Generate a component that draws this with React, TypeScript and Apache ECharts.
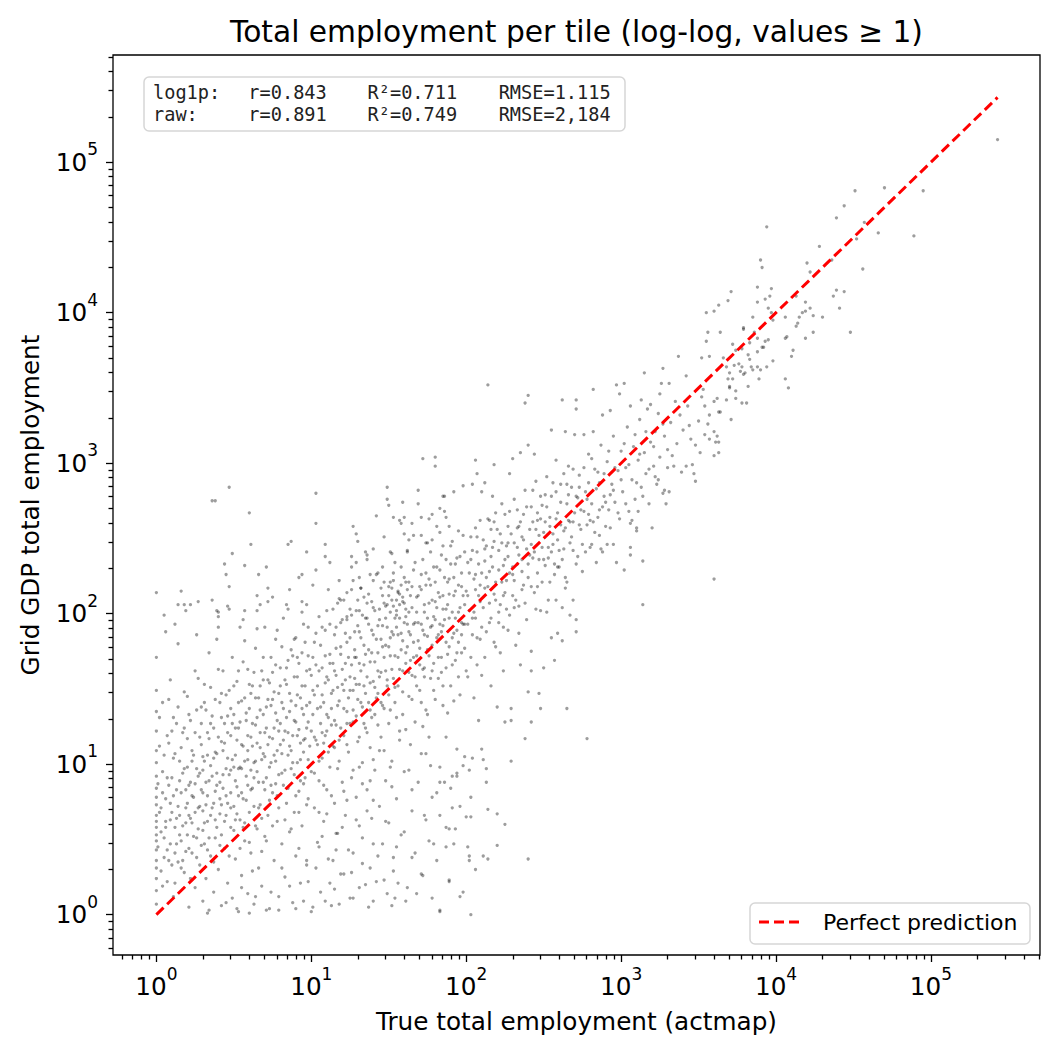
import { useEffect, useRef } from "react";
import * as echarts from "echarts";

type Pt = [number, number];

// every point is [log10 true employment, log10 grid GDP employment]
const tiles1to2: Pt[] = [
  [0,0.07],[0,0.16],[0,0.24],[0,0.31],[0,0.36],[0,0.43],[0,0.49],[0,0.53],[0,0.58],[0,0.62],[0,0.66],[0,0.73],[0,0.78],[0,0.84],[0,0.92],[0,1.01],[0,1.09],[0,1.22],[0,1.35],[0,1.49],[0,1.71],[0,2.14],
  [0.03,0.55],[0.04,0.81],[0.05,1.99],[0.05,0.38],[0.06,1.88],[0.06,0.62],[0.07,0.22],[0.08,1.14],[0.09,0.74],[0.09,0.47],[0.10,0.91],[0.11,0.12],[0.11,1.31],[0.12,0.58],[0.12,1.93],[0.13,0.83],[0.14,0.35],[0.14,2.06],[0.14,1.80],[0.15,1.02],[0.15,0.66],[0.16,2.15],[0.16,0.49],[0.17,0.94],[0.18,0.28],[0.18,2.06],[0.18,1.24],[0.19,0.71],[0.19,2.02],[0.20,0.53],[0.20,1.45],[0.21,0.86],[0.21,0.05],[0.22,2.06],[0.22,0.64],[0.23,1.09],[0.23,0.41],[0.24,0.78],[0.25,1.62],[0.25,0.18],[0.26,1.86],[0.26,0.97],[0.27,2.08],[0.27,0.57],[0.28,1.18],[0.28,0.33],[0.29,0.83],[0.29,1.38],[0.30,0.69],[0.30,0.09],[0.30,1.05],
];

const tiles2to4: Pt[] = [
  [0.31,0.47],[0.31,1.53],[0.32,0.88],[0.32,0.24],[0.33,1.21],[0.33,0.62],[0.34,1.74],[0.34,0.03],[0.35,0.99],[0.35,0.39],[0.36,2.75],[0.36,2.09],[0.36,1.32],[0.37,0.74],[0.37,0.15],[0.38,2.75],[0.38,1.08],[0.38,0.51],[0.39,2.02],[0.39,1.83],[0.39,0.86],[0.40,1.98],[0.40,2.01],[0.40,1.91],[0.40,0.30],[0.41,1.41],[0.41,0.67],[0.42,1.15],[0.42,0.06],[0.43,0.93],[0.43,1.62],[0.44,2.33],[0.44,0.44],[0.44,1.27],[0.45,2.26],[0.45,0.79],[0.46,2.05],[0.46,0.21],[0.46,1.04],[0.47,2.84],[0.47,2.18],[0.47,2.03],[0.47,1.49],[0.48,0.58],[0.48,0.96],[0.48,1.19],[0.49,2.40],[0.49,0.11],[0.49,1.71],[0.50,0.72],[0.50,1.33],[0.51,0.37],[0.51,1.06],[0.52,1.55],[0.52,0.85],[0.53,0.02],[0.53,1.24],[0.54,1.91],[0.54,0.63],[0.54,0.98],[0.55,1.42],[0.55,0.26],[0.56,1.96],[0.56,1.12],[0.56,0.77],[0.57,2.32],[0.57,2.02],[0.57,1.82],[0.57,0.49],[0.58,1.29],[0.58,0.92],[0.59,0.14],[0.59,1.63],[0.59,1.03],[0.60,2.67],[0.60,0.68],[0.60,1.37],
];

const tiles4to10: Pt[] = [
  [0.61,2.46],[0.61,0.41],[0.61,1.18],[0.62,0.84],[0.62,1.52],[0.63,0.07],[0.63,1.01],[0.64,1.77],[0.64,0.59],[0.64,1.26],[0.65,2.12],[0.65,2.02],[0.65,1.90],[0.65,0.95],[0.66,2.26],[0.66,0.31],[0.66,1.44],[0.67,2.06],[0.67,1.11],[0.67,0.73],[0.68,1.62],[0.68,0.19],[0.69,1.33],[0.69,0.88],[0.70,1.91],[0.70,1.05],[0.70,0.52],[0.71,2.31],[0.71,1.24],[0.72,2.17],[0.72,2.08],[0.72,0.66],[0.72,1.56],[0.73,0.04],[0.73,0.98],[0.74,1.39],[0.74,1.71],[0.75,2.11],[0.75,0.81],[0.75,1.17],[0.76,0.36],[0.76,1.48],[0.77,1.02],[0.77,1.83],[0.78,1.89],[0.78,0.62],[0.78,1.29],[0.79,0.93],[0.79,0.12],[0.80,1.64],[0.80,1.13],[0.81,0.47],[0.81,1.41],[0.82,0.86],[0.82,1.97],[0.83,1.22],[0.83,0.25],[0.84,2.06],[0.84,1.53],[0.84,0.74],[0.85,2.46],[0.85,2.03],[0.85,1.06],[0.86,2.16],[0.86,0.55],[0.86,1.35],[0.87,2.48],[0.87,1.76],[0.87,0.97],[0.88,0.08],[0.88,1.19],[0.89,1.58],[0.89,0.68],[0.90,1.28],[0.90,0.39],[0.90,1.84],[0.91,1.01],[0.91,1.46],[0.92,2.24],[0.92,0.82],[0.92,1.67],[0.93,1.14],[0.93,0.21],[0.94,2.26],[0.94,2.08],[0.94,2.01],[0.94,1.37],[0.94,0.59],[0.95,1.08],[0.95,1.93],[0.96,0.91],[0.96,1.52],[0.97,2.41],[0.97,2.06],[0.97,1.24],[0.97,0.33],[0.98,1.72],[0.98,0.77],[0.99,1.41],[0.99,1.12],[1.00,0.02],[1.00,1.59],[1.00,0.95],
];

const tiles10to32: Pt[] = [
  [1.01,2.19],[1.01,1.33],[1.02,0.71],[1.02,1.81],[1.03,2.80],[1.03,2.60],[1.03,2.29],[1.03,1.16],[1.04,0.48],[1.04,1.52],[1.05,1.98],[1.05,0.89],[1.06,1.27],[1.06,0.15],[1.07,1.64],[1.07,1.04],[1.08,1.41],[1.08,0.62],[1.09,2.46],[1.09,2.38],[1.09,1.89],[1.09,1.19],[1.10,0.83],[1.10,1.58],[1.11,2.16],[1.11,0.37],[1.11,1.31],[1.12,2.34],[1.12,1.73],[1.12,0.98],[1.13,1.47],[1.13,0.06],[1.14,1.12],[1.14,2.03],[1.15,0.74],[1.15,1.62],[1.16,1.26],[1.16,1.91],[1.17,0.54],[1.17,1.39],[1.18,2.22],[1.18,1.02],[1.19,1.78],[1.19,0.27],[1.20,1.53],[1.20,0.88],[1.21,1.19],[1.21,2.09],[1.22,1.67],[1.22,0.66],[1.23,1.35],[1.23,1.96],[1.24,0.43],[1.24,1.08],[1.25,1.84],[1.25,1.49],[1.26,2.31],[1.26,0.91],[1.27,1.28],[1.27,0.11],[1.28,1.71],[1.28,1.57],[1.29,2.02],[1.29,0.78],[1.30,1.43],[1.30,1.15],[1.31,0.59],[1.31,1.88],[1.32,1.62],[1.32,2.17],[1.33,1.01],[1.33,0.34],[1.34,1.52],[1.34,1.79],[1.35,1.24],[1.35,2.41],[1.36,0.83],[1.36,1.97],[1.37,1.41],[1.37,0.05],[1.38,1.68],[1.38,1.11],[1.39,2.08],[1.39,0.64],[1.40,1.55],[1.40,1.86],[1.41,0.96],[1.41,1.33],[1.42,2.26],[1.42,0.22],[1.43,1.74],[1.43,1.47],[1.44,0.72],[1.44,2.03],[1.45,1.18],[1.45,1.61],[1.46,0.47],[1.46,1.92],[1.47,1.37],[1.47,2.51],[1.48,0.89],[1.48,1.79],[1.49,1.56],[1.49,0.14],[1.50,2.12],[1.50,1.27],[1.50,0.61],
];

const tiles32to100: Pt[] = [
  [1.51,1.84],[1.51,2.21],[1.52,1.02],[1.52,1.63],[1.53,2.05],[1.53,0.38],[1.54,1.41],[1.54,2.34],[1.55,1.91],[1.55,0.77],[1.56,2.15],[1.56,1.52],[1.57,1.22],[1.57,2.62],[1.58,1.76],[1.58,0.53],[1.59,2.08],[1.59,1.33],[1.60,2.24],[1.60,0.95],[1.61,1.67],[1.61,1.98],[1.62,0.18],[1.62,2.41],[1.63,1.45],[1.63,1.88],[1.64,1.13],[1.64,2.12],[1.65,0.69],[1.65,1.59],[1.66,2.29],[1.66,1.81],[1.67,1.28],[1.67,0.41],[1.68,2.01],[1.68,1.72],[1.69,2.73],[1.69,0.88],[1.70,1.49],[1.70,2.18],[1.71,1.93],[1.71,1.07],[1.72,2.36],[1.72,0.26],[1.73,1.64],[1.73,2.06],[1.74,1.36],[1.74,0.63],[1.75,1.85],[1.75,2.47],[1.76,1.18],[1.76,2.23],[1.77,1.57],[1.77,0.99],[1.78,2.09],[1.78,1.79],[1.79,0.47],[1.79,2.31],[1.80,1.43],[1.80,1.96],[1.81,2.58],[1.81,0.81],[1.82,1.71],[1.82,2.14],[1.84,1.88],[1.84,2.39],[1.85,1.52],[1.85,2.03],[1.86,2.68],[1.87,1.81],[1.88,2.21],[1.88,1.34],[1.89,1.97],[1.90,2.45],[1.91,1.66],[1.92,2.12],[1.92,1.42],[1.93,2.33],[1.94,1.89],[1.95,2.55],[1.95,1.58],[1.96,2.04],[1.97,1.74],[1.97,2.27],[1.98,1.93],[1.99,2.41],[2.00,1.62],[2.00,2.15],
  [1.83,0.02],[1.96,0.12],[1.98,0.15],[1.89,0.22],[1.87,0.45],[1.89,0.57],[1.93,0.57],[1.83,0.66],[1.96,0.72],[1.90,0.84],[1.83,0.88],[1.86,0.88],[1.99,1.05],[1.94,1.10],[1.91,0.92],[1.94,0.92],[1.98,0.99],[2.00,0.65],
  [1.46,2.12],[1.48,2.05],[1.50,2.18],[1.52,2.09],[1.53,2.22],[1.55,2.02],[1.56,2.14],[1.57,2.06],[1.58,2.19],[1.59,2.11],[1.61,2.03],[1.62,2.16],[1.47,2.21],[1.54,1.97],
];

const tiles100to316: Pt[] = [
  [2.03,0.00],[2.06,0.30],[2.11,0.39],[2.14,0.37],[2.02,0.39],[2.02,0.36],[2.40,0.37],[2.20,0.46],[2.01,0.45],[2.25,0.60],[2.14,0.70],[2.20,0.67],[2.03,0.65],[2.03,0.78],[2.13,0.88],[2.29,1.02],[2.38,1.17],[2.42,1.28],[2.48,1.37],[2.11,1.03],[2.13,0.97],[2.10,1.10],[2.04,1.04],[2.02,0.96],[2.50,1.64],[2.35,1.66],[2.42,1.75],[2.42,1.62],[2.40,1.48],[2.47,1.47],[2.29,1.37],[2.25,1.28],[2.29,1.29],[2.14,3.52],[2.40,3.45],[2.38,3.40],[2.06,3.02],[2.18,2.99],[2.30,3.03],[2.35,3.07],[2.40,3.12],[2.44,3.06],[2.28,2.93],[2.07,2.93],[2.04,2.86],[2.12,2.87],[2.10,2.81],[2.17,2.78],
  [2.01,2.34],[2.01,1.58],[2.02,2.02],[2.03,2.51],[2.04,1.86],[2.05,2.23],[2.05,1.44],[2.06,1.97],[2.07,1.66],[2.07,2.41],[2.08,2.12],[2.08,1.29],[2.09,2.62],[2.09,1.83],[2.10,2.27],[2.11,2.04],[2.12,1.71],[2.13,2.45],[2.14,2.18],[2.15,1.94],[2.16,2.56],[2.16,1.52],[2.17,2.31],[2.18,1.81],[2.19,2.09],[2.19,2.67],[2.20,1.38],[2.21,2.42],[2.21,2.01],[2.22,1.74],[2.23,2.21],[2.23,2.73],[2.24,1.62],[2.25,2.36],[2.26,2.03],[2.27,2.58],[2.27,1.89],[2.28,2.27],[2.30,2.12],[2.31,2.47],[2.32,1.79],[2.33,2.33],[2.33,2.69],[2.34,2.05],[2.36,2.51],[2.37,2.19],[2.38,2.82],[2.39,1.96],[2.41,2.39],[2.43,2.61],[2.44,2.14],[2.45,2.88],[2.46,2.27],[2.47,2.52],[2.48,2.02],[2.49,2.72],[2.50,2.36],[2.12,2.35],[2.18,2.48],[2.24,2.12],[2.31,2.22],[2.36,2.36],[2.42,2.46],[2.06,2.16],[2.15,2.62],[2.26,2.45],[2.34,2.58],[2.46,2.62],
];

const tiles316to1k: Pt[] = [
  [2.57,1.69],[2.59,1.87],[2.55,1.84],[2.62,1.82],[2.71,1.96],[2.71,1.88],[2.67,1.99],[2.58,2.09],[2.52,2.01],[2.62,2.04],[2.64,2.17],[2.69,2.09],[2.97,2.34],[2.95,2.46],[2.91,2.46],[2.88,2.41],[2.81,2.46],[2.75,2.46],[2.78,1.17],[2.65,1.37],[2.62,3.42],[2.71,3.42],[2.71,3.36],[2.82,3.49],[2.55,3.22],[2.64,3.21],[2.70,3.19],[2.76,3.19],[2.82,3.21],[2.88,3.32],[2.93,3.35],[2.99,3.46],[2.97,3.52],
  [2.51,2.61],[2.52,2.91],[2.53,2.44],[2.54,2.21],[2.55,2.78],[2.56,2.53],[2.57,2.33],[2.58,3.02],[2.59,2.67],[2.60,2.42],[2.61,2.86],[2.63,2.55],[2.64,2.24],[2.65,2.73],[2.66,2.98],[2.67,2.47],[2.68,2.84],[2.69,2.61],[2.72,2.38],[2.73,2.92],[2.74,2.69],[2.75,2.28],[2.77,2.81],[2.78,2.59],[2.79,3.06],[2.80,2.44],[2.81,2.73],[2.83,2.96],[2.84,2.34],[2.85,2.64],[2.86,2.87],[2.87,3.12],[2.89,2.78],[2.90,2.58],[2.91,3.01],[2.92,2.69],[2.94,2.86],[2.95,3.18],[2.96,2.74],[2.98,2.95],[2.99,2.63],[3.00,3.08],[2.60,2.31],[2.66,2.62],[2.72,2.77],[2.79,2.66],[2.86,2.52],[2.93,2.79],
];

const tiles1kto3k: Pt[] = [
  [3.02,2.29],[3.06,2.39],[3.14,2.35],[3.06,2.44],[3.20,2.57],[3.10,2.55],[3.10,2.57],[3.06,2.60],[3.29,2.73],[3.31,2.81],[3.28,2.82],[3.27,2.80],[3.47,2.93],[3.48,2.88],[3.39,2.94],[3.42,2.98],[3.46,2.99],[3.48,3.12],[3.14,2.06],[3.02,3.53],[3.06,3.38],[3.13,3.42],[3.19,3.39],[3.25,3.46],[3.31,3.53],[3.26,3.53],
  [3.01,2.81],[3.03,2.97],[3.04,3.24],[3.05,2.68],[3.07,2.89],[3.08,3.11],[3.09,2.76],[3.11,3.02],[3.12,3.29],[3.13,2.84],[3.15,3.07],[3.16,2.93],[3.17,3.36],[3.18,2.73],[3.19,3.14],[3.21,2.98],[3.22,3.21],[3.23,2.86],[3.24,3.33],[3.25,3.04],[3.28,3.18],[3.30,3.09],[3.32,3.27],[3.34,2.98],[3.35,3.41],[3.36,3.13],[3.38,3.32],[3.40,3.22],[3.43,3.38],[3.45,3.16],[3.50,3.28],[3.11,2.68],[3.22,2.91],[3.33,3.05],[3.44,3.25],
  [3.27,3.63],[3.37,3.71],[3.15,3.60],[3.42,3.58],
];

const tilesOver3k: Pt[] = [
  [3.51,3.07],[3.63,3.07],[3.60,3.05],[3.63,3.14],[3.61,3.14],[3.57,3.16],[3.54,3.19],[3.60,3.21],[3.62,3.18],[3.56,3.26],[3.64,3.34],[3.71,3.29],[3.60,2.23],
  [3.52,3.70],[3.57,3.71],[3.66,3.70],[3.53,3.49],[3.52,3.44],[3.60,3.41],[3.62,3.43],[3.68,3.42],[3.74,3.43],[3.78,3.40],[3.81,3.40],[3.63,3.34],[3.57,3.32],[3.54,3.38],
  [3.76,3.66],[3.78,3.64],[3.73,3.65],[3.68,3.64],[3.84,3.64],[3.88,3.64],[3.94,3.64],[3.90,3.62],[3.85,3.62],[3.80,3.60],[3.77,3.61],[3.79,3.59],[3.70,3.60],[3.72,3.56],[3.69,3.56],[3.70,3.51],[3.70,3.50],[3.74,3.48],[3.82,3.51],[3.89,3.56],
  [3.83,3.80],[3.78,3.76],[3.74,3.75],[3.72,3.79],[3.88,3.74],[3.92,3.77],[3.91,3.77],[3.98,3.68],[3.82,3.72],[3.83,3.69],
  [3.79,3.90],[3.79,3.89],[3.86,3.87],[3.88,3.83],[3.93,3.81],[3.95,3.82],[3.64,3.87],[3.56,3.87],[3.55,3.81],
  [3.97,4.16],[3.96,4.11],[3.93,4.09],[3.88,4.07],[3.88,4.17],[3.71,4.14],[3.69,4.08],[3.63,4.05],[3.60,4.01],[3.55,4.00],[3.95,4.03],[3.97,4.00],[3.98,3.95],[3.85,3.97],
  [4.06,3.97],[4.07,3.84],[4.06,3.83],[4.11,3.75],[4.10,3.71],[4.06,3.56],[4.08,3.50],[4.13,4.11],[4.13,3.91],[4.14,3.93],[4.24,3.87],[4.19,3.83],[4.19,4.07],[4.22,4.03],[4.19,4.01],[4.17,4.00],[4.15,3.97],[4.24,3.98],[4.30,3.97],[4.39,4.15],[4.44,4.14],[4.37,4.11],[4.41,4.03],[4.48,3.87],[3.94,4.57],[3.90,4.35],[3.91,4.30],[4.20,4.33],[4.22,4.27],[4.36,4.35],[4.28,4.44],[4.56,4.29],[4.52,4.49],[4.66,4.53],[4.57,4.60],[4.39,4.63],[4.44,4.71],[4.89,4.51],[4.51,4.81],[4.70,4.83],[4.95,4.81],[5.43,5.15],
];

// sparse tiles well below the diagonal
const underPredicted: Pt[] = [
  [1.38,0.31],[1.47,0.23],[1.53,0.29],[1.71,0.27],[1.83,0.03],[1.89,0.23],[1.78,0.11],[1.61,0.09],[1.54,0.11],[1.40,0.09],[1.31,0.18],[1.25,0.11],[1.18,0.07],[1.09,0.09],[1.01,0.05],[0.90,0.04],[0.79,0.03],[0.71,0.03],[0.60,0.01],[0.52,0.04],[0.33,0.01],[1.21,0.27],[1.14,0.36],[1.27,0.41],[1.40,0.47],[1.55,0.45],[1.65,0.38],[1.76,0.49],[1.87,0.58],[1.91,0.71],[1.78,0.78],[1.65,0.83],[1.52,0.85],[1.40,0.76],[1.29,0.63],[1.16,0.54],[1.05,0.45],[0.97,0.36],[1.10,0.67],[1.23,0.76],[1.38,0.89],[1.51,0.98],[1.63,0.96],[1.74,1.07],[1.87,1.18],[1.83,0.98],[1.94,0.94],[1.72,1.25],[1.57,1.16],[1.44,1.09],[1.31,0.98],
  [0.55,0.18],[0.62,0.29],[0.68,0.42],[0.74,0.15],[0.81,0.31],[0.86,0.19],[0.92,0.44],[0.98,0.22],[1.03,0.31],[1.07,0.52],[1.12,0.21],[1.16,0.43],[1.20,0.58],[1.26,0.28],[1.33,0.51],[1.36,0.69],[1.43,0.39],[1.48,0.62],[1.56,0.21],[1.60,0.55],[1.68,0.14],[1.73,0.66],[1.81,0.36],[1.92,0.47],[0.45,0.08],[0.64,0.12],[0.95,0.09],[1.15,0.17],[1.35,0.20],[1.52,0.06],
];

// sparse tiles well above the diagonal
const overPredicted: Pt[] = [
  [1.27,2.58],[1.29,2.53],[1.30,2.48],[1.49,2.84],[1.50,2.72],[1.49,2.76],[1.59,2.74],[1.69,2.82],[1.72,3.03],[1.80,3.04],[1.80,2.98],[1.42,2.65],[1.53,2.64],[1.60,2.64],[1.58,2.60],[1.65,2.60],[1.71,2.64],[1.76,2.63],[1.78,2.66],[1.83,2.70],[1.85,2.78],[1.92,2.81],[1.87,2.64],[1.89,2.58],[1.83,2.54],[1.78,2.49],[1.74,2.47],[1.85,2.45],[1.71,2.52],[1.66,2.52],[1.63,2.49],[1.60,2.53],[1.62,2.42],[1.52,2.40],[1.51,2.41],[1.36,2.39],[1.40,2.43],[1.36,2.36],[1.26,2.38],[1.29,2.34],[1.38,2.26],[1.40,2.22],[1.43,2.27],[1.46,2.31],[1.18,2.10],[1.19,2.09],[1.23,2.14],[1.26,2.16],[1.32,2.17],[1.27,2.22],[1.31,2.24],[1.34,2.11],[1.36,2.07],[1.31,2.02],[1.23,1.98],[1.86,2.78],[1.98,2.85],
];

// dense core of the cloud, true employment 1 to 10
const coreSmall: Pt[] = [
  [0.02,0.68],[0.02,1.12],[0.03,0.29],[0.04,0.95],[0.04,1.41],[0.05,0.51],[0.06,0.77],[0.07,1.19],[0.07,0.43],[0.08,0.86],[0.09,1.56],[0.10,0.33],[0.10,0.68],[0.11,1.04],[0.12,0.21],[0.13,0.47],[0.13,1.27],[0.14,0.72],[0.15,0.89],[0.16,0.31],[0.16,1.11],[0.17,0.59],[0.18,1.48],[0.19,0.83],[0.19,0.42],[0.20,0.98],[0.21,0.66],[0.21,1.33],[0.22,0.24],[0.23,0.79],[0.23,1.02],[0.24,0.52],[0.25,1.21],[0.25,0.87],[0.26,0.38],[0.27,0.71],[0.27,1.57],[0.28,0.94],[0.29,0.46],[0.29,1.13],[0.30,0.81],[0.31,0.61],[0.31,1.02],[0.32,1.36],[0.33,0.79],[0.33,0.43],[0.34,1.17],[0.35,0.66],[0.35,1.51],[0.36,0.92],[0.37,0.35],[0.37,1.24],[0.38,0.82],[0.39,0.58],[0.39,1.07],[0.40,1.63],[0.41,0.88],[0.41,0.46],[0.42,1.31],[0.42,0.73],[0.43,1.09],[0.44,0.62],[0.45,1.46],[0.45,0.97],[0.46,0.74],[0.46,1.21],[0.47,0.39],[0.48,1.37],[0.48,0.81],[0.49,1.03],[0.50,0.56],[0.50,1.52],[0.51,0.89],[0.51,1.24],[0.52,0.67],[0.53,1.41],[0.53,0.97],[0.54,0.44],[0.55,1.13],[0.55,0.81],[0.56,1.68],[0.57,1.02],[0.57,0.61],[0.58,1.34],[0.59,0.86],[0.59,1.19],[0.60,0.48],[0.61,1.47],[0.61,0.96],[0.62,1.12],[0.63,0.72],[0.63,1.61],[0.64,1.02],[0.65,0.57],[0.65,1.31],[0.66,0.88],[0.67,1.52],[0.67,1.21],[0.68,0.64],[0.69,1.07],[0.69,1.71],[0.70,0.83],[0.71,1.38],[0.71,0.49],[0.72,1.13],[0.73,1.54],[0.73,0.76],[0.74,1.01],[0.75,1.43],[0.75,0.59],[0.76,1.24],[0.77,0.87],[0.77,1.66],[0.78,1.09],[0.79,1.47],[0.79,0.71],[0.80,1.27],[0.81,0.94],[0.81,1.78],[0.82,1.16],[0.83,0.63],[0.83,1.56],[0.84,1.31],[0.85,0.84],[0.85,1.69],[0.86,1.12],[0.87,1.42],[0.87,0.57],[0.88,1.01],[0.89,1.29],[0.89,1.83],[0.90,0.79],[0.91,1.58],[0.91,1.19],[0.92,0.68],[0.93,1.44],[0.93,1.03],[0.94,1.74],[0.95,0.87],[0.95,1.33],[0.96,1.17],[0.97,1.62],[0.97,0.73],[0.98,1.28],[0.98,1.91],
  [0.01,0.87],[0.01,0.45],[0.02,1.31],[0.03,0.71],[0.04,0.19],[0.05,1.06],[0.06,0.58],[0.07,0.91],[0.08,0.36],[0.08,1.43],[0.09,0.63],[0.10,1.22],[0.11,0.79],[0.12,0.41],[0.12,1.07],[0.13,0.64],[0.14,1.38],[0.15,0.53],[0.16,0.81],[0.17,1.21],[0.17,0.36],[0.18,0.97],[0.19,0.61],[0.20,1.17],[0.20,0.74],[0.21,0.44],[0.22,1.29],[0.22,0.88],[0.23,0.61],[0.24,1.06],[0.25,0.68],[0.26,1.36],[0.26,0.51],[0.27,0.92],[0.28,0.72],[0.29,1.27],[0.30,0.56],[0.30,0.96],[0.31,1.41],[0.32,0.73],[0.33,1.06],[0.34,0.51],[0.34,0.89],[0.35,1.27],[0.36,0.71],[0.37,1.04],[0.38,1.43],[0.38,0.63],[0.39,0.94],[0.40,1.18],[0.41,0.77],[0.42,0.53],[0.42,1.47],[0.43,0.84],[0.44,1.14],[0.45,0.66],[0.46,1.32],[0.47,0.93],[0.48,0.71],[0.49,1.27],[0.50,0.98],[0.51,0.63],[0.52,1.16],[0.53,1.62],[0.53,0.79],[0.54,1.28],[0.55,0.97],[0.56,0.58],[0.57,1.44],[0.58,0.76],[0.59,1.09],[0.60,1.53],[0.61,0.83],[0.62,1.27],[0.63,0.91],[0.64,1.44],[0.65,1.14],[0.66,0.71],[0.67,1.36],[0.68,1.03],[0.69,1.56],[0.70,1.21],[0.71,0.91],[0.72,1.43],[0.73,1.18],[0.74,0.86],[0.75,1.61],[0.76,1.06],[0.77,1.34],[0.78,0.79],[0.79,1.22],[0.80,1.52],[0.81,1.07],[0.82,1.37],[0.83,0.96],[0.84,1.64],[0.85,1.21],[0.86,1.47],[0.87,1.09],[0.88,1.72],[0.89,0.93],[0.90,1.39],[0.91,1.71],[0.92,1.23],[0.93,0.89],[0.94,1.52],[0.95,1.16],[0.96,1.81],[0.97,1.39],[0.98,1.03],[0.99,1.63],
];

// dense core, true employment 10 to 100
const coreMedium: Pt[] = [
  [1.00,1.22],[1.01,1.71],[1.02,0.94],[1.02,1.46],[1.03,1.87],[1.04,1.13],[1.05,1.62],[1.05,0.68],[1.06,1.38],[1.07,1.91],[1.07,1.21],[1.08,0.86],[1.09,1.54],[1.10,1.33],[1.10,2.02],[1.11,1.08],[1.12,1.67],[1.13,1.26],[1.13,0.79],[1.14,1.49],[1.15,1.86],[1.15,1.11],[1.16,1.59],[1.17,2.07],[1.17,0.97],[1.18,1.42],[1.19,1.24],[1.19,1.73],[1.20,1.96],[1.21,1.37],[1.21,0.82],[1.22,1.56],[1.23,1.13],[1.23,1.81],[1.24,1.44],[1.25,2.03],[1.25,1.27],[1.26,1.66],[1.27,0.96],[1.27,1.49],[1.28,1.88],[1.29,1.32],[1.29,1.71],[1.30,2.09],[1.31,1.18],[1.31,1.53],[1.32,1.84],[1.33,1.38],[1.33,0.87],[1.34,1.66],[1.35,1.97],[1.35,1.47],[1.36,1.21],[1.37,1.76],[1.37,2.13],[1.38,1.54],[1.39,1.31],[1.39,1.89],[1.40,1.03],[1.41,1.68],[1.41,2.02],[1.42,1.44],[1.43,1.92],[1.43,1.26],[1.44,1.58],[1.45,1.83],[1.45,2.17],[1.46,1.39],[1.47,1.71],[1.47,1.09],[1.48,1.97],[1.49,1.52],[1.49,2.06],[1.50,1.78],[1.51,1.36],[1.51,2.01],[1.52,1.88],[1.53,1.57],[1.53,2.27],[1.54,1.72],[1.55,1.31],[1.55,2.09],[1.56,1.86],[1.57,1.63],[1.57,1.97],[1.58,2.31],[1.59,1.48],[1.59,1.82],[1.60,2.07],[1.61,1.74],[1.61,1.23],[1.62,1.93],[1.63,2.21],[1.63,1.61],[1.64,1.86],[1.65,1.43],[1.65,2.04],[1.66,1.71],[1.67,2.34],[1.67,1.94],[1.68,1.52],[1.69,1.82],[1.69,2.12],[1.70,1.66],[1.71,2.26],[1.71,1.41],[1.72,1.89],[1.73,2.01],[1.73,1.58],[1.74,2.19],[1.75,1.76],[1.75,1.33],[1.76,2.07],[1.77,1.91],[1.77,2.41],[1.78,1.62],[1.79,1.98],[1.79,1.49],[1.80,2.21],[1.81,1.84],[1.81,2.04],[1.82,1.57],[1.83,2.29],[1.83,1.93],[1.84,1.71],[1.85,2.12],[1.85,1.39],[1.86,1.96],[1.87,2.36],[1.87,1.64],[1.88,2.06],[1.89,1.78],[1.89,2.23],[1.90,1.52],[1.91,2.01],[1.91,2.48],[1.92,1.87],[1.93,1.69],[1.93,2.15],[1.94,2.37],[1.95,1.81],[1.95,2.01],[1.96,1.46],[1.97,2.18],[1.97,1.94],[1.98,2.52],[1.99,1.77],[1.99,2.06],
  [1.01,1.49],[1.02,1.18],[1.03,1.66],[1.04,1.37],[1.05,1.02],[1.06,1.79],[1.07,1.46],[1.08,1.14],[1.09,1.72],[1.10,1.22],[1.11,1.56],[1.12,1.93],[1.13,1.37],[1.14,1.67],[1.15,1.29],[1.16,1.77],[1.17,1.51],[1.18,1.16],[1.19,1.94],[1.20,1.63],[1.21,1.49],[1.22,1.87],[1.23,1.27],[1.24,1.71],[1.25,1.58],[1.26,1.99],[1.27,1.36],[1.28,1.76],[1.29,1.53],[1.30,1.92],[1.31,1.67],[1.32,1.41],[1.33,1.99],[1.34,1.27],[1.35,1.73],[1.36,1.58],[1.37,1.93],[1.38,1.36],[1.39,1.74],[1.40,2.04],[1.41,1.51],[1.42,1.83],[1.43,1.62],[1.44,1.96],[1.45,1.41],[1.46,1.78],[1.47,2.07],[1.48,1.62],[1.49,1.91],[1.50,1.46],[1.51,1.72],[1.52,2.17],[1.53,1.86],[1.54,1.51],[1.55,1.99],[1.56,1.71],[1.57,2.13],[1.58,1.87],[1.59,1.62],[1.60,1.94],[1.61,2.21],[1.62,1.78],[1.63,2.01],[1.64,1.69],[1.65,2.18],[1.66,1.93],[1.67,1.58],[1.68,2.11],[1.69,1.94],[1.70,1.77],[1.71,2.16],[1.72,1.63],[1.73,1.86],[1.74,2.27],[1.75,1.97],[1.76,1.72],[1.77,2.19],[1.78,1.92],[1.79,1.67],[1.80,2.08],[1.81,2.31],[1.82,1.86],[1.83,2.11],[1.84,1.61],[1.85,1.92],[1.86,2.24],[1.87,2.03],[1.88,1.73],[1.89,2.13],[1.90,2.33],[1.91,1.84],[1.92,2.24],[1.93,1.97],[1.94,1.74],[1.95,2.19],[1.96,2.38],[1.97,1.86],[1.98,2.12],[1.99,1.93],
];

// dense core, true employment 100 to 2000
const coreLarge: Pt[] = [
  [2.01,1.93],[2.02,2.27],[2.03,1.71],[2.04,2.42],[2.05,2.01],[2.06,2.57],[2.07,1.84],[2.08,2.33],[2.09,2.08],[2.10,1.59],[2.11,2.49],[2.12,2.17],[2.13,1.88],[2.14,2.63],[2.15,2.28],[2.16,1.97],[2.17,2.44],[2.18,2.13],[2.19,1.78],[2.20,2.56],[2.21,2.29],[2.22,2.06],[2.23,2.47],[2.24,1.91],[2.25,2.66],[2.26,2.22],[2.27,2.38],[2.28,1.99],[2.29,2.53],[2.30,2.31],[2.31,2.76],[2.32,2.09],[2.33,2.44],[2.34,1.87],[2.35,2.61],[2.36,2.28],[2.37,2.49],[2.38,2.07],[2.39,2.71],[2.40,2.33],[2.41,2.56],[2.42,2.18],[2.43,2.82],[2.44,2.41],[2.45,2.03],[2.46,2.67],[2.47,2.36],[2.48,2.78],[2.49,2.21],[2.50,2.54],[2.51,2.32],[2.52,2.71],[2.53,2.09],[2.54,2.58],[2.55,2.41],[2.56,2.87],[2.57,2.26],[2.58,2.63],[2.59,2.49],[2.61,2.74],[2.62,2.36],[2.63,2.93],[2.64,2.57],[2.65,2.21],[2.66,2.79],[2.68,2.51],[2.69,2.96],[2.70,2.67],[2.71,2.33],[2.73,2.84],[2.74,2.56],[2.76,2.97],[2.77,2.41],[2.78,2.76],[2.80,2.62],[2.81,3.03],[2.83,2.54],[2.84,2.83],[2.86,2.69],[2.87,2.43],[2.89,2.93],[2.90,2.74],[2.92,3.08],[2.93,2.57],[2.95,2.82],[2.96,2.97],[2.98,2.67],[3.00,2.89],[3.02,3.13],[3.03,2.73],[3.05,2.99],[3.07,2.62],[3.09,3.19],[3.10,2.87],[3.12,3.06],[3.14,2.78],[3.16,3.21],[3.18,2.96],[3.21,3.11],[3.24,2.89],[3.27,3.26],[3.30,2.97],
  [2.01,2.12],[2.03,2.36],[2.04,1.97],[2.06,2.26],[2.07,2.51],[2.09,2.19],[2.10,1.91],[2.12,2.43],[2.13,2.24],[2.15,2.07],[2.16,2.38],[2.18,2.61],[2.19,2.21],[2.21,1.94],[2.22,2.53],[2.24,2.32],[2.25,2.14],[2.27,2.47],[2.28,2.68],[2.30,2.26],[2.31,2.04],[2.33,2.57],[2.34,2.39],[2.36,2.16],[2.37,2.66],[2.39,2.43],[2.40,2.24],[2.42,2.71],[2.43,2.37],[2.45,2.56],[2.46,2.18],[2.48,2.63],[2.49,2.44],[2.51,2.79],[2.53,2.37],[2.54,2.64],[2.56,2.46],[2.58,2.81],[2.59,2.31],[2.61,2.59],[2.63,2.43],[2.65,2.86],[2.67,2.61],[2.69,2.42],[2.71,2.78],[2.73,2.59],[2.76,2.68],[2.79,2.87],[2.82,2.61],[2.85,2.94],[2.88,2.71],
];

const perfectLine: Pt[] = [[0, 0], [5.43, 5.43]];

const majorTicks = [0, 1, 2, 3, 4, 5];
const statsColumns = [
  ["log1p:", "raw:"],
  ["r=0.843", "r=0.891"],
  ["R²=0.711", "R²=0.749"],
  ["RMSE=1.115", "RMSE=2,184"],
];
const statsCols = [0, 8, 18, 29];

const X_MIN = -0.28;
const X_MAX = 5.704;
const Y_MIN = -0.268;
const Y_MAX = 5.712;
const FONT = "DejaVu Sans";
const MONO = "DejaVu Sans Mono";

function minorTicks(lo: number, hi: number): number[] {
  const out: number[] = [];
  for (let e = -1; e <= 5; e++) {
    for (let k = 2; k <= 9; k++) {
      const v = e + Math.log10(k);
      if (v > lo && v < hi) out.push(v);
    }
  }
  return out;
}

const powerLabel = (v: number) => `{b|10}{s|${Math.round(v)}}`;
const powerRich = {
  b: { fontFamily: FONT, fontSize: 24.7, color: "#000", padding: [9, 0, 9, 0] },
  s: { fontFamily: FONT, fontSize: 17, color: "#000", verticalAlign: "top" },
};
const tickLine = { color: "#000", width: 1.3 };

export default function App() {
  const ref = useRef<HTMLDivElement>(null);

  useEffect(() => {
    document.body.style.margin = "0";
    if (!ref.current) return;
    const chart = echarts.init(ref.current, undefined, {
      renderer: "svg",
      width: 1059,
      height: 1052,
    });

    const allTiles = [
      ...tiles1to2,
      ...tiles2to4,
      ...tiles4to10,
      ...tiles10to32,
      ...tiles32to100,
      ...tiles100to316,
      ...tiles316to1k,
      ...tiles1kto3k,
      ...tilesOver3k,
      ...underPredicted,
      ...overPredicted,
      ...coreSmall,
      ...coreMedium,
      ...coreLarge,
    ];

    const statsText = statsColumns.map((col, c) => ({
      type: "text",
      x: 153 + statsCols[c] * 11.92,
      y: 81.5,
      z: 100,
      style: {
        text: col.join("\n"),
        fill: "#222",
        fontFamily: MONO,
        fontSize: 18.6,
        lineHeight: 22.3,
        textAlign: "left",
        textVerticalAlign: "top",
      },
    }));

    const hiddenLine = { show: false, onZero: false };

    chart.setOption({
      animation: false,
      grid: {
        left: 113,
        right: 19,
        top: 55,
        bottom: 97,
        show: true,
        borderColor: "#000",
        borderWidth: 1.3,
        outerBoundsMode: "none",
      },
      xAxis: [
        {
          type: "value",
          min: X_MIN,
          max: X_MAX,
          position: "bottom",
          axisLine: hiddenLine,
          splitLine: { show: false },
          axisTick: { show: true, customValues: majorTicks, length: 7, lineStyle: tickLine },
          axisLabel: { customValues: majorTicks, formatter: powerLabel, rich: powerRich, margin: 10 },
          name: "True total employment (actmap)",
          nameLocation: "middle",
          nameGap: 54,
          nameTextStyle: { fontFamily: FONT, fontSize: 24.7, color: "#000" },
        },
        {
          type: "value",
          min: X_MIN,
          max: X_MAX,
          position: "bottom",
          axisLine: hiddenLine,
          splitLine: { show: false },
          axisLabel: { show: false },
          axisTick: { show: true, customValues: minorTicks(X_MIN, X_MAX), length: 4.5, lineStyle: tickLine },
        },
      ],
      yAxis: [
        {
          type: "value",
          min: Y_MIN,
          max: Y_MAX,
          position: "left",
          axisLine: hiddenLine,
          splitLine: { show: false },
          axisTick: { show: true, customValues: majorTicks, length: 7, lineStyle: tickLine },
          axisLabel: { customValues: majorTicks, formatter: powerLabel, rich: powerRich, margin: 15 },
          name: "Grid GDP total employment",
          nameLocation: "middle",
          nameGap: 70,
          nameTextStyle: { fontFamily: FONT, fontSize: 24.7, color: "#000" },
        },
        {
          type: "value",
          min: Y_MIN,
          max: Y_MAX,
          position: "left",
          axisLine: hiddenLine,
          splitLine: { show: false },
          axisLabel: { show: false },
          axisTick: { show: true, customValues: minorTicks(Y_MIN, Y_MAX), length: 4.5, lineStyle: tickLine },
        },
      ],
      series: [
        {
          type: "scatter",
          data: allTiles,
          symbolSize: 3.3,
          itemStyle: { color: "rgba(0,0,0,0.48)" },
          silent: true,
          z: 2,
        },
        {
          type: "line",
          data: perfectLine,
          symbol: "none",
          lineStyle: { color: "#ff0000", width: 3, type: [10, 5] },
          silent: true,
          z: 3,
        },
      ],
      graphic: [
        {
          type: "text",
          x: 576.5,
          y: 31,
          z: 100,
          style: {
            text: "Total employment per tile (log-log, values ≥ 1)",
            fill: "#000",
            fontFamily: FONT,
            fontSize: 29.7,
            textAlign: "center",
            textVerticalAlign: "middle",
          },
        },
        {
          type: "rect",
          z: 99,
          shape: { x: 144, y: 77, width: 481, height: 54, r: 5 },
          style: { fill: "rgba(255,255,255,0.8)", stroke: "#d6d6d6", lineWidth: 1.5 },
        },
        ...statsText,
        {
          type: "rect",
          z: 99,
          shape: { x: 750, y: 903, width: 280, height: 41, r: 5 },
          style: { fill: "rgba(255,255,255,0.8)", stroke: "#d6d6d6", lineWidth: 1.5 },
        },
        {
          type: "line",
          z: 100,
          shape: { x1: 759, y1: 922, x2: 803, y2: 922 },
          style: { stroke: "#ff0000", lineWidth: 3, lineDash: [10, 5] },
        },
        {
          type: "text",
          x: 823,
          y: 922,
          z: 100,
          style: {
            text: "Perfect prediction",
            fill: "#000",
            fontFamily: FONT,
            fontSize: 22,
            textAlign: "left",
            textVerticalAlign: "middle",
          },
        },
      ],
    });

    return () => {
      chart.dispose();
    };
  }, []);

  return <div ref={ref} style={{ width: 1059, height: 1052 }} />;
}
